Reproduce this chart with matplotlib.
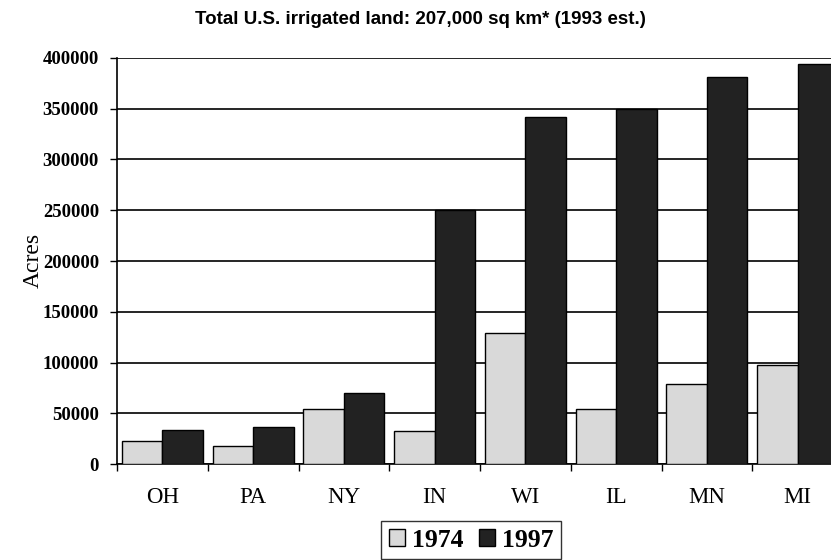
import matplotlib
matplotlib.use("Agg")
import matplotlib.pyplot as plt
import numpy as np
from matplotlib.ticker import FixedLocator

states = ["OH", "PA", "NY", "IN", "WI", "IL", "MN", "MI"]
acres_1974 = [22500, 18000, 54500, 33000, 129000, 54500, 79000, 97500]
acres_1997 = [33500, 37000, 70000, 250000, 342000, 350000, 381000, 394000]
yticks = [0, 50000, 100000, 150000, 200000, 250000, 300000, 350000, 400000]
title = "Total U.S. irrigated land: 207,000 sq km* (1993 est.)"

fig = plt.figure(figsize=(8.31, 5.6), dpi=100)
W, H = 831, 560
ax = fig.add_axes([117 / W, (H - 464.3) / H, (843 - 117) / W, (464.3 - 57.7) / H])

x = np.arange(len(states))
bw = 0.445
light = "#d9d9d9"
dark = "#222222"
b1 = ax.bar(x - bw / 2, acres_1974, bw, color=light, edgecolor="black", linewidth=1.0, label="1974", zorder=3)
b2 = ax.bar(x + bw / 2, acres_1997, bw, color=dark, edgecolor="black", linewidth=1.0, label="1997", zorder=3)

ax.set_xlim(-0.5, len(states) - 0.5)
ax.set_ylim(0, 400000)
ax.set_yticks(yticks)
ax.set_yticklabels([str(v) for v in yticks], fontfamily="Liberation Serif", fontweight="bold", fontsize=13.5)
ax.grid(axis="y", color="black", linewidth=1.2, zorder=0)
ax.set_axisbelow(True)

ax.set_xticks(x)
ax.set_xticklabels(states, fontfamily="Liberation Serif", fontsize=16.5)
ax.xaxis.set_minor_locator(FixedLocator(np.arange(-0.5, len(states), 1.0)))
ax.tick_params(axis="x", which="major", length=0, pad=16)
ax.tick_params(axis="x", which="minor", length=5, width=1.0, direction="out")
ax.tick_params(axis="y", length=5, width=1.0, direction="out", pad=8)

for s in ["top", "right"]:
    ax.spines[s].set_visible(False)
for s in ["left", "bottom"]:
    ax.spines[s].set_linewidth(1.2)

fig.text(33 / W, 1 - 260 / H, "Acres", rotation=90, ha="center", va="center",
         fontfamily="Liberation Serif", fontsize=17)
fig.text(420 / W, 1 - 20 / H, title, ha="center", va="center",
         fontfamily="Liberation Sans", fontweight="bold", fontsize=13.5)

leg = fig.legend(handles=[b1, b2], labels=["1974", "1997"], loc="upper left",
                 bbox_to_anchor=(381 / W, 1 - 521 / H), ncol=2, frameon=True,
                 fancybox=False, borderaxespad=0, handlelength=0.65, handleheight=0.65,
                 handletextpad=0.25, columnspacing=0.6, borderpad=0.3,
                 prop={"family": "Liberation Serif", "weight": "bold", "size": 18.5})
leg.get_frame().set_edgecolor("black")
leg.get_frame().set_linewidth(1.0)

fig.savefig("out.png", dpi=100)
